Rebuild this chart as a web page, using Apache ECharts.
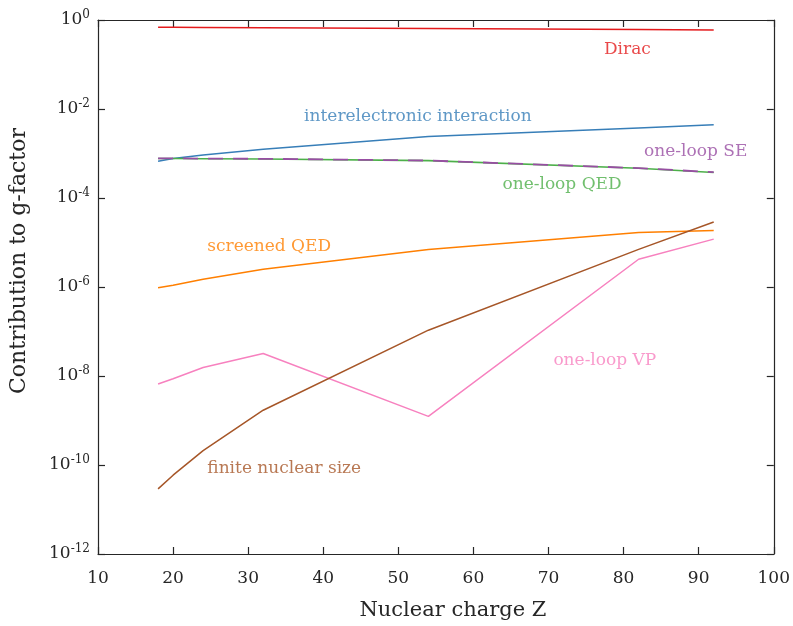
<!DOCTYPE html>
<html>
<head>
<meta charset="utf-8">
<script src="https://cdn.jsdelivr.net/npm/echarts@6/dist/echarts.min.js"></script>
<style>
  html, body { margin: 0; padding: 0; background: #fff; }
  #chart { width: 793px; height: 626px; }
</style>
</head>
<body>
<div id="chart"></div>
<script>
// Nuclear charges of the computed ions
const Z = [18, 20, 24, 32, 54, 82, 92];

// Contributions to the g-factor for each Z
const dirac       = [0.686, 0.684, 0.679, 0.668, 0.642, 0.610, 0.596];
const interElec   = [6.7e-4, 7.7e-4, 9.2e-4, 1.24e-3, 2.4e-3, 3.75e-3, 4.4e-3];
const oneLoopSE   = [7.75e-4, 7.75e-4, 7.7e-4, 7.6e-4, 6.95e-4, 4.7e-4, 3.8e-4];
const oneLoopQED  = [7.7e-4, 7.7e-4, 7.65e-4, 7.55e-4, 6.9e-4, 4.65e-4, 3.75e-4];
const screenedQED = [9.6e-7, 1.1e-6, 1.5e-6, 2.5e-6, 7.0e-6, 1.68e-5, 1.86e-5];
const oneLoopVP   = [6.6e-9, 8.7e-9, 1.55e-8, 3.2e-8, 1.24e-9, 4.2e-6, 1.19e-5];
const finiteSize  = [2.9e-11, 5.9e-11, 2.1e-10, 1.7e-9, 1.07e-7, 7.0e-6, 2.9e-5];

// Axis ticks
const xTicks = [10, 20, 30, 40, 50, 60, 70, 80, 90, 100];
const yExponents = [0, -2, -4, -6, -8, -10, -12];

// In-plot curve labels: [text, Z, value, colour key]
const curveLabels = [
  ['Dirac', 80.5, 0.211, 'red'],
  ['interelectronic interaction', 52.6, 6.6e-3, 'blue'],
  ['one-loop SE', 89.6, 1.08e-3, 'purple'],
  ['one-loop QED', 71.8, 2.0e-4, 'green'],
  ['screened QED', 32.8, 8.3e-6, 'orange'],
  ['one-loop VP', 77.5, 2.25e-8, 'pink'],
  ['finite nuclear size', 34.8, 8.5e-11, 'brown']
];

const C = {
  red: '#e41a1c', blue: '#377eb8', purple: '#984ea3', green: '#4daf4a',
  orange: '#ff7f00', pink: '#f781bf', brown: '#a65628'
};

const FONT = '"DejaVu Serif", "Liberation Serif", serif';
const AX = '#262626';

function pairs(vals) { return Z.map((z, i) => [z, vals[i]]); }

function lineSeries(name, vals, color, extra) {
  return Object.assign({
    name: name,
    type: 'line',
    data: pairs(vals),
    showSymbol: false,
    symbol: 'none',
    smooth: false,
    lineStyle: { color: color, width: 1.5 },
    emphasis: { disabled: true },
    silent: true
  }, extra || {});
}

const chart = echarts.init(document.getElementById('chart'), null, { renderer: 'canvas' });

const grid = { left: 98, right: 18, top: 20, bottom: 72, containLabel: false };

const option = {
  animation: false,
  backgroundColor: '#ffffff',
  grid: grid,
  xAxis: [{
    type: 'value', min: xTicks[0], max: xTicks[xTicks.length - 1], interval: 10,
    name: 'Nuclear charge Z', nameLocation: 'middle', nameGap: 46,
    nameTextStyle: { fontFamily: FONT, fontSize: 21, color: AX, padding: [0, 0, 0, 34] },
    axisLine: { show: true, lineStyle: { color: AX, width: 1.2 } },
    axisTick: { show: true, inside: true, length: 7, lineStyle: { color: AX, width: 1.2 } },
    axisLabel: { fontFamily: FONT, fontSize: 17, color: AX, margin: 16 },
    splitLine: { show: false }
  }, {
    type: 'value', position: 'top', min: xTicks[0], max: xTicks[xTicks.length - 1], interval: 10,
    axisLine: { show: true, lineStyle: { color: AX, width: 1.2 } },
    axisTick: { show: true, inside: true, length: 7, lineStyle: { color: AX, width: 1.2 } },
    axisLabel: { show: false },
    splitLine: { show: false }
  }],
  yAxis: [{
    type: 'log', logBase: 10, min: 1e-12, max: 1, interval: 2,
    name: 'Contribution to g-factor', nameLocation: 'middle', nameGap: 68, nameRotate: 90,
    nameTextStyle: { fontFamily: FONT, fontSize: 22, color: AX, padding: [0, 0, 0, 52] },
    axisLine: { show: true, lineStyle: { color: AX, width: 1.2 } },
    axisTick: { show: true, inside: true, length: 7, lineStyle: { color: AX, width: 1.2 } },
    axisLabel: {
      margin: 8,
      formatter: function (v) {
        const e = Math.round(Math.log10(v));
        return '{b|10}{s|' + e + '}';
      },
      rich: {
        b: { fontFamily: FONT, fontSize: 17, color: AX },
        s: { fontFamily: FONT, fontSize: 12, color: AX, verticalAlign: 'bottom', padding: [0, 0, 10, 0] }
      }
    },
    splitLine: { show: false }
  }, {
    type: 'log', logBase: 10, min: 1e-12, max: 1, interval: 2, position: 'right',
    axisLine: { show: true, lineStyle: { color: AX, width: 1.2 } },
    axisTick: { show: true, inside: true, length: 7, lineStyle: { color: AX, width: 1.2 } },
    axisLabel: { show: false },
    splitLine: { show: false }
  }],
  series: [
    lineSeries('Dirac', dirac, C.red),
    lineSeries('interelectronic interaction', interElec, C.blue),
    lineSeries('one-loop QED', oneLoopQED, C.green, { lineStyle: { color: C.green, width: 1.6 } }),
    lineSeries('one-loop SE', oneLoopSE, C.purple, { lineStyle: { color: C.purple, width: 1.8, type: [15, 10] } }),
    lineSeries('screened QED', screenedQED, C.orange),
    lineSeries('one-loop VP', oneLoopVP, C.pink),
    lineSeries('finite nuclear size', finiteSize, C.brown),
    {
      name: 'labels',
      type: 'scatter',
      silent: true,
      symbolSize: 0,
      data: curveLabels.map(l => ({
        value: [l[1], l[2]],
        label: {
          show: true, position: 'inside', formatter: l[0],
          fontFamily: FONT, fontSize: 17, color: C[l[3]]
        }
      }))
    }
  ]
};

chart.setOption(option);
</script>
</body>
</html>
